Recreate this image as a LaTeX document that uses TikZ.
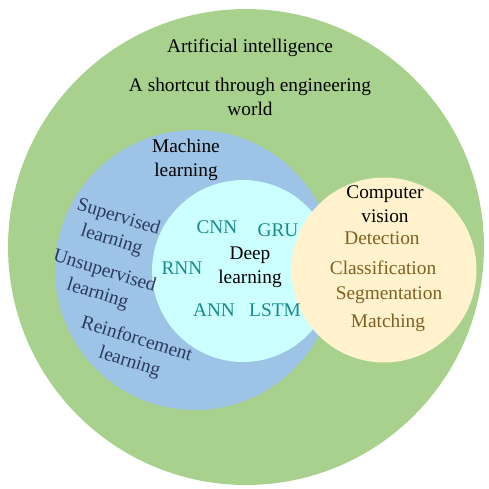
\documentclass[tikz,border=0pt]{standalone}
\usepackage{fontspec}
\setmainfont{Liberation Serif}
\usepackage{xcolor}
\usetikzlibrary{positioning}

\definecolor{aigreen}{HTML}{A9D18E}
\definecolor{mlblue}{HTML}{9DC3E6}
\definecolor{dlcyan}{HTML}{CCFFFF}
\definecolor{cvcream}{HTML}{FFF2CC}
\definecolor{mltext}{HTML}{2B3A5E}
\definecolor{dltext}{HTML}{178A8A}
\definecolor{cvtext}{HTML}{806020}

\begin{document}
\begin{tikzpicture}[
    x=0.02cm, y=-0.02cm,
    zone/.style={circle, inner sep=0pt},
    lbl/.style={align=center, inner sep=0pt, font=\fontsize{11}{13.5}\selectfont},
    mlitem/.style={lbl, text=mltext, rotate=-17},
    dlitem/.style={lbl, text=dltext},
    cvitem/.style={lbl, text=cvtext}
]
    \useasboundingbox (0,0) rectangle (489,488);

    % circles
    \node[zone, fill=aigreen, minimum size=9.52cm] (AI) at (246,247) {};
    \node[zone, fill=mlblue, minimum size=5.6cm] (ML) at (195,270) {};
    \node[zone, fill=dlcyan, minimum size=3.64cm] (DL) at (243,271) {};
    \node[zone, fill=cvcream, minimum size=3.7cm] (CV) at (384,270) {};

    % artificial intelligence
    \node[lbl] (AI_title) at (250,48) {Artificial intelligence};
    \node[lbl] (AI_note) at (250,97) {A shortcut through engineering\\world};

    % machine learning
    \node[lbl] (ML_title) at (186,160) {Machine\\learning};
    \node[mlitem] (SL) at (115,229) {Supervised\\learning};
    \node[mlitem] (UL) at (101,283) {Unsupervised\\learning};
    \node[mlitem] (RL) at (133,351) {Reinforcement\\learning};

    % deep learning
    \node[lbl] (DL_title) at (250,267) {Deep\\learning};
    \node[dlitem] (CNN) at (217,227) {CNN};
    \node[dlitem] (GRU) at (278,230) {GRU};
    \node[dlitem] (RNN) at (182,268) {RNN};
    \node[dlitem] (ANN) at (214,310) {ANN};
    \node[dlitem] (LSTM) at (275,310) {LSTM};

    % computer vision
    \node[lbl] (CV_title) at (385,204) {Computer\\vision};
    \node[cvitem] (DET) at (382,238) {Detection};
    \node[cvitem] (CLS) at (383,268) {Classification};
    \node[cvitem] (SEG) at (389,295) {Segmentation};
    \node[cvitem] (MAT) at (388,323) {Matching};
\end{tikzpicture}
\end{document}
